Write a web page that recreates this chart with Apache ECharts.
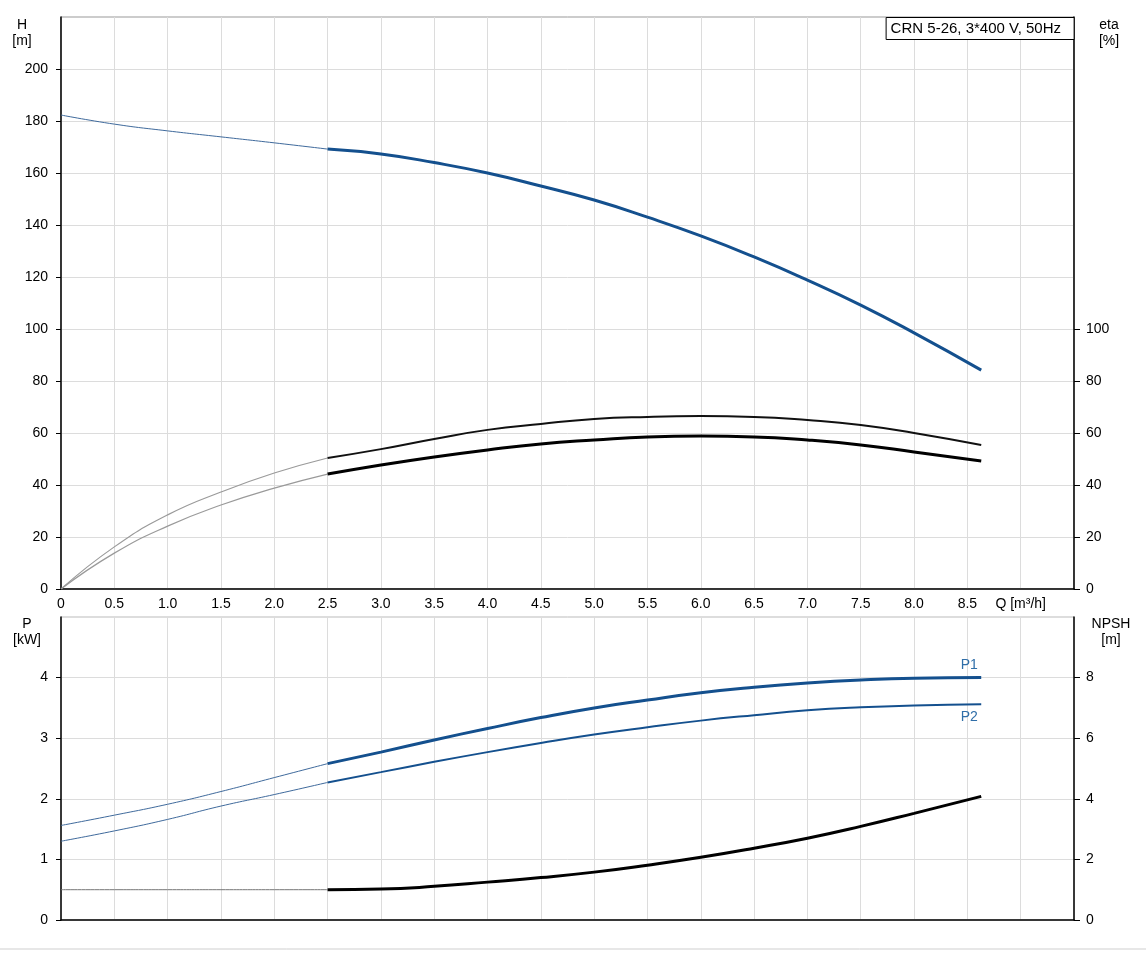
<!DOCTYPE html>
<html>
<head>
<meta charset="utf-8">
<script src="https://cdn.jsdelivr.net/npm/echarts@6/dist/echarts.min.js"></script>
<style>
html,body{margin:0;padding:0;background:#fff;}
#c{width:1146px;height:953px;}
</style>
</head>
<body>
<div id="c"></div>
<script>
// ---- data ----
const qThin = [0, 0.5, 1.0, 1.5, 2.0, 2.5];
const qMain = [2.5, 3.0, 3.5, 4.0, 4.5, 5.0, 5.5, 6.0, 6.5, 7.0, 7.5, 8.0, 8.63];

const hThin = [182.3, 178.8, 176.2, 173.9, 171.6, 169.2];
const hMain = [169.2, 167.3, 164.0, 160.0, 155.0, 149.6, 143.0, 135.8, 127.7, 118.8, 109.2, 98.5, 84.2];

const etaPumpThin = [0, 16.2, 28.5, 37.3, 44.6, 50.4];
const etaPumpMain = [50.4, 53.8, 57.7, 61.2, 63.5, 65.4, 66.2, 66.5, 66.2, 65.0, 63.1, 60.0, 55.4];

const etaTotThin = [0, 13.8, 24.2, 32.3, 38.8, 44.2];
const etaTotMain = [44.2, 47.7, 50.8, 53.5, 55.8, 57.3, 58.5, 58.8, 58.5, 57.3, 55.4, 52.7, 49.2];

const p1Thin = [1.56, 1.73, 1.91, 2.12, 2.35, 2.58];
const p1Main = [2.58, 2.77, 2.97, 3.16, 3.34, 3.50, 3.63, 3.75, 3.84, 3.91, 3.96, 3.99, 4.00];

const p2Thin = [1.30, 1.47, 1.66, 1.88, 2.07, 2.27];
const p2Main = [2.27, 2.44, 2.61, 2.77, 2.92, 3.06, 3.18, 3.29, 3.38, 3.46, 3.51, 3.54, 3.56];

const npshThin = [1.0, 1.0, 1.0, 1.0, 1.0, 1.0];
const npshMain = [1.0, 1.02, 1.11, 1.25, 1.40, 1.58, 1.81, 2.07, 2.37, 2.70, 3.09, 3.52, 4.08];

const hTicks = [0, 20, 40, 60, 80, 100, 120, 140, 160, 180, 200];
const etaTicks = [0, 20, 40, 60, 80, 100];
const pTicks = [0, 1, 2, 3, 4];
const npshTicks = [0, 2, 4, 6, 8];

const titleText = 'CRN 5-26, 3*400 V, 50Hz';
const qAxisName = 'Q [m³/h]';

// ---- build ----
const pair = (xs, ys) => xs.map((x, i) => [x, ys[i]]);
const FONT = 'Liberation Sans, Arial, sans-serif';
const BLUE = '#14508e';
const THINBLUE = '#3f6a9c';

function lineSeries(xIdx, yIdx, data, color, width, extra) {
  return Object.assign({
    type: 'line', xAxisIndex: xIdx, yAxisIndex: yIdx, data: data,
    smooth: true, symbol: 'none',
    lineStyle: { color: color, width: width }, itemStyle: { color: color },
    silent: true, z: 3
  }, extra || {});
}

function endMark(data, text, pos) {
  return {
    markPoint: {
      silent: true, animation: false,
      symbol: 'circle', symbolSize: 1,
      itemStyle: { color: 'rgba(0,0,0,0)' },
      label: { show: true, formatter: text, position: pos, distance: 5, offset: [-12, 0],
        color: '#2f6ea8', fontSize: 14, fontFamily: FONT },
      data: [{ coord: data[data.length - 1] }]
    }
  };
}

const axisLineBlack = { show: true, lineStyle: { color: '#000', width: 1.5 } };
const splitGray = { show: true, lineStyle: { color: '#dcdcdc', width: 1 } };
const labelStyle = { color: '#000', fontSize: 14, fontFamily: FONT };

const p1Data = pair(qMain, p1Main);
const p2Data = pair(qMain, p2Main);

const option = {
  animation: false,
  backgroundColor: '#fff',
  title: {
    text: titleText, right: 72, top: 17,
    borderColor: '#000', borderWidth: 1, padding: [4, 13, 4, 5],
    backgroundColor: '#fff',
    textStyle: { fontSize: 15, fontWeight: 'normal', color: '#000', fontFamily: FONT }
  },
  grid: [
    { left: 61, right: 72, top: 17, height: 572, show: true, borderColor: '#999', borderWidth: 1 },
    { left: 61, right: 72, top: 617, height: 303, show: true, borderColor: '#bbb', borderWidth: 1 }
  ],
  xAxis: [
    { type: 'value', gridIndex: 0, min: 0, max: 9.5, interval: 0.5, position: 'bottom',
      axisLine: axisLineBlack, axisTick: { show: false }, splitLine: splitGray,
      axisLabel: Object.assign({ margin: 8, showMaxLabel: false,
        formatter: v => v === 0 ? '0' : (Math.abs(v - 9) < 1e-9 ? qAxisName : v.toFixed(1)) }, labelStyle) },
    { type: 'value', gridIndex: 1, min: 0, max: 9.5, interval: 0.5, position: 'top',
      axisLine: axisLineBlack, axisTick: { show: false }, splitLine: splitGray,
      axisLabel: { show: false } }
  ],
  yAxis: [
    { type: 'value', gridIndex: 0, min: 0, max: 220, interval: 20, position: 'left',
      name: 'H\n[m]', nameLocation: 'end', nameGap: -32,
      nameTextStyle: { color: '#000', fontSize: 14, fontFamily: FONT, lineHeight: 16, align: 'center', padding: [0, 78, 0, 0] },
      axisLine: axisLineBlack,
      axisTick: { show: true, length: 5, lineStyle: { color: '#000' }, customValues: hTicks },
      axisLabel: Object.assign({ margin: 13, customValues: hTicks }, labelStyle),
      splitLine: splitGray },
    { type: 'value', gridIndex: 0, min: 0, max: 220, interval: 20, position: 'right',
      name: 'eta\n[%]', nameLocation: 'end', nameGap: -32,
      nameTextStyle: { color: '#000', fontSize: 14, fontFamily: FONT, lineHeight: 16, align: 'center', padding: [0, 0, 0, 70] },
      axisLine: axisLineBlack,
      axisTick: { show: true, length: 6, lineStyle: { color: '#000' }, customValues: etaTicks },
      axisLabel: Object.assign({ margin: 12, customValues: etaTicks }, labelStyle),
      splitLine: { show: false } },
    { type: 'value', gridIndex: 1, min: 0, max: 5, interval: 1, position: 'left',
      name: 'P\n[kW]', nameLocation: 'end', nameGap: -31,
      nameTextStyle: { color: '#000', fontSize: 14, fontFamily: FONT, lineHeight: 16, align: 'center', padding: [0, 68, 0, 0] },
      axisLine: axisLineBlack,
      axisTick: { show: true, length: 5, lineStyle: { color: '#000' }, customValues: pTicks },
      axisLabel: Object.assign({ margin: 13, customValues: pTicks }, labelStyle),
      splitLine: splitGray },
    { type: 'value', gridIndex: 1, min: 0, max: 10, interval: 2, position: 'right',
      name: 'NPSH\n[m]', nameLocation: 'end', nameGap: -31,
      nameTextStyle: { color: '#000', fontSize: 14, fontFamily: FONT, lineHeight: 16, align: 'center', padding: [0, 0, 0, 74] },
      axisLine: axisLineBlack,
      axisTick: { show: true, length: 6, lineStyle: { color: '#000' }, customValues: npshTicks },
      axisLabel: Object.assign({ margin: 12, customValues: npshTicks }, labelStyle),
      splitLine: { show: false } }
  ],
  graphic: [
    { type: 'line', shape: { x1: 0, y1: 949, x2: 1146, y2: 949 }, style: { stroke: '#cfcfcf', lineWidth: 1 }, silent: true }
  ],
  series: [
    lineSeries(0, 0, pair(qThin, hThin), THINBLUE, 1),
    lineSeries(0, 0, pair(qMain, hMain), BLUE, 3),
    lineSeries(0, 1, pair(qThin, etaPumpThin), '#9a9a9a', 1.2),
    lineSeries(0, 1, pair(qMain, etaPumpMain), '#111', 2),
    lineSeries(0, 1, pair(qThin, etaTotThin), '#9a9a9a', 1.2),
    lineSeries(0, 1, pair(qMain, etaTotMain), '#000', 3),
    lineSeries(1, 2, pair(qThin, p1Thin), THINBLUE, 1),
    lineSeries(1, 2, p1Data, BLUE, 3, endMark(p1Data, 'P1', 'top')),
    lineSeries(1, 2, pair(qThin, p2Thin), THINBLUE, 1),
    lineSeries(1, 2, p2Data, BLUE, 2, endMark(p2Data, 'P2', 'bottom')),
    lineSeries(1, 3, pair(qThin, npshThin), '#777', 1),
    lineSeries(1, 3, pair(qMain, npshMain), '#000', 3)
  ]
};

const chart = echarts.init(document.getElementById('c'), null, { renderer: 'canvas' });
chart.setOption(option);
</script>
</body>
</html>
